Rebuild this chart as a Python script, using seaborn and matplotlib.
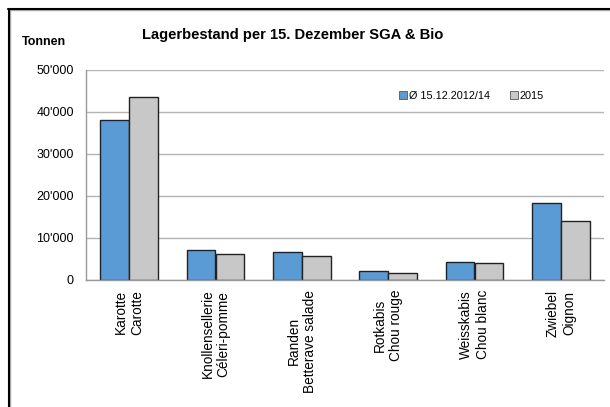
import matplotlib
matplotlib.use("Agg")
import matplotlib.pyplot as plt
from matplotlib.lines import Line2D
from matplotlib.ticker import FuncFormatter
import pandas as pd
import seaborn as sns

# values (Tonnen)
categories = ["Karotte\nCarotte", "Knollensellerie\nCéleri-pomme",
              "Randen\nBetterave salade", "Rotkabis\nChou rouge",
              "Weisskabis\nChou blanc", "Zwiebel\nOignon"]
avg_2012_14 = [38200, 7100, 6700, 2100, 4300, 18300]
y2015 = [43500, 6200, 5800, 1600, 4100, 14000]
series = ["Ø 15.12.2012/14", "2015"]
colors = ["#5B9BD5", "#C8C8C8"]

df = pd.DataFrame({
    "Kategorie": categories * 2,
    "Tonnen": avg_2012_14 + y2015,
    "Serie": [series[0]] * len(categories) + [series[1]] * len(categories),
})

sns.set_style("white")
plt.rcParams["font.family"] = ["Liberation Sans", "DejaVu Sans"]
plt.rcParams["text.color"] = "black"
plt.rcParams["xtick.labelcolor"] = "black"
plt.rcParams["ytick.labelcolor"] = "black"

fig = plt.figure(figsize=(6.1, 4.07), dpi=100)
ax = fig.add_axes([86 / 610, 1 - 280 / 407, 518 / 610, 210 / 407])

sns.barplot(data=df, x="Kategorie", y="Tonnen", hue="Serie",
            palette=colors, width=0.667, gap=0, edgecolor="#222222",
            linewidth=1.0, saturation=1, ax=ax)

ax.set_ylim(0, 50000)
ax.set_xlim(-0.5, len(categories) - 0.5)
ax.set_yticks(range(0, 50001, 10000))
ax.yaxis.set_major_formatter(FuncFormatter(
    lambda v, _: f"{int(v):,}".replace(",", "'")))
ax.yaxis.grid(True, color="#b4b4b4", linewidth=1.0)
ax.set_axisbelow(True)
ax.set_xlabel("")
ax.set_ylabel("")

for side in ["top", "right"]:
    ax.spines[side].set_visible(False)
for side in ["left", "bottom"]:
    ax.spines[side].set_color("#999999")
    ax.spines[side].set_linewidth(1.0)

# ticks between the categories on the x axis
ax.set_xticks([i - 0.5 for i in range(len(categories) + 1)], minor=True)
ax.tick_params(axis="x", which="minor", length=5, color="#999999", width=1)
ax.tick_params(axis="x", which="major", length=0, pad=7)
ax.tick_params(axis="y", length=3, color="#999999", width=1, pad=5.8,
               labelsize=9)
for lab in ax.get_xticklabels():
    lab.set_rotation(90)
    lab.set_ha("center")
    lab.set_va("top")
    lab.set_multialignment("center")
    lab.set_fontsize(9.8)

handles = [Line2D([], [], marker="s", linestyle="", markersize=6,
                  markerfacecolor=c, markeredgecolor="#555555",
                  markeredgewidth=0.6) for c in colors]
ax.legend(handles, series, loc="center left", bbox_to_anchor=(0.585, 0.877),
          ncol=2, frameon=False, fontsize=7.8, handletextpad=0.1,
          columnspacing=1.9, handlelength=0.8)

fig.text(0.48, 0.913, "Lagerbestand per 15. Dezember SGA & Bio",
         ha="center", va="center", fontsize=10.6, fontweight="bold")
fig.text(22 / 610, 1 - 42 / 407, "Tonnen", ha="left", va="center",
         fontsize=9, fontweight="bold")

# frame around the chart (cut at right and bottom)
fig.add_artist(Line2D([10 / 610, 10 / 610], [0, 1 - 10 / 407],
                      color="#aaaaaa", linewidth=1.0))
fig.add_artist(Line2D([10 / 610, 1], [1 - 10 / 407, 1 - 10 / 407],
                      color="#aaaaaa", linewidth=1.0))
fig.add_artist(Line2D([8.5 / 610, 8.5 / 610], [0, 1 - 8.5 / 407],
                      color="black", linewidth=1.5))
fig.add_artist(Line2D([8 / 610, 1], [1 - 8.5 / 407, 1 - 8.5 / 407],
                      color="black", linewidth=1.5))

fig.savefig("out.png", dpi=100)
